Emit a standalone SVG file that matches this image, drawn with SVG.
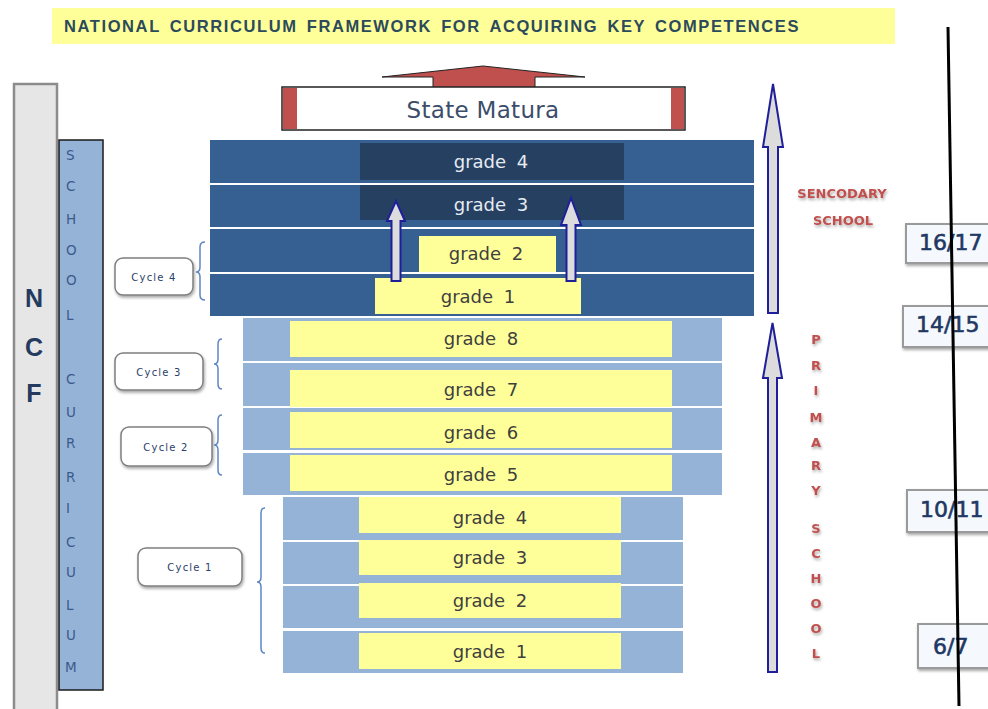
<svg xmlns="http://www.w3.org/2000/svg" width="988" height="709" viewBox="0 0 988 709">
<defs>
<style>
.sec{fill:#376092}
.dk{fill:#254061}
.lb{fill:#95b3d7}
.yl{fill:#ffff99}
.gt{font-family:"DejaVu Sans",sans-serif;font-size:18px;fill:#404040;text-anchor:middle;word-spacing:5px}
.gw{fill:#e6ebf3}
.arr{fill:#dcdcdc;stroke:#1f1f9a;stroke-width:2;stroke-linejoin:miter}
.cyb{fill:#ffffff;stroke:#7f7f7f;stroke-width:1.5}
.cyt{font-family:"DejaVu Sans",sans-serif;font-size:10px;fill:#2a3f6a;text-anchor:middle;letter-spacing:1.2px}
.br{fill:none;stroke:#5f87c2;stroke-width:1.5}
.sl{font-family:"DejaVu Sans",sans-serif;font-size:13.5px;fill:#3c5a8c}
.ncf{font-family:"Liberation Sans",sans-serif;font-size:25px;font-weight:bold;fill:#243a5e;text-anchor:middle}
.red{font-family:"DejaVu Sans",sans-serif;font-size:13px;font-weight:bold;fill:#c0504d;text-anchor:middle}
.age{fill:#f5f8fc;stroke:#9a9a9a;stroke-width:2}
.agt{font-family:"DejaVu Sans",sans-serif;font-size:22px;fill:#1f3864;stroke:#1f3864;stroke-width:0.6}
</style>
<filter id="sh" x="-20%" y="-20%" width="140%" height="160%">
<feGaussianBlur in="SourceAlpha" stdDeviation="1.5"/>
<feOffset dx="1" dy="2" result="b"/>
<feFlood flood-color="#000" flood-opacity="0.35"/>
<feComposite in2="b" operator="in"/>
<feMerge><feMergeNode/><feMergeNode in="SourceGraphic"/></feMerge>
</filter>
</defs>
<rect width="988" height="709" fill="#ffffff"/>

<g id="title">
<rect x="52" y="8" width="843" height="36" fill="#ffff99"/>
<text x="64" y="32" font-family="Liberation Sans,sans-serif" font-size="16.5" font-weight="bold" fill="#2b4a5c" letter-spacing="1.6" word-spacing="3">NATIONAL CURRICULUM FRAMEWORK FOR ACQUIRING KEY COMPETENCES</text>
</g>

<g id="ncf">
<rect x="14" y="84" width="43" height="640" fill="#e6e6e6" stroke="#8c8c8c" stroke-width="2.5"/>
<text class="ncf" x="34" y="307">N</text>
<text class="ncf" x="34" y="356">C</text>
<text class="ncf" x="34" y="402">F</text>
</g>

<g id="school-curriculum">
<rect x="59" y="140" width="44" height="550" fill="#95b3d7" stroke="#1a1a1a" stroke-width="1.5"/>
<text class="sl" x="66" y="160">S</text>
<text class="sl" x="66" y="191">C</text>
<text class="sl" x="66" y="224">H</text>
<text class="sl" x="66" y="255">O</text>
<text class="sl" x="66" y="285">O</text>
<text class="sl" x="66" y="320">L</text>
<text class="sl" x="66" y="384">C</text>
<text class="sl" x="66" y="417">U</text>
<text class="sl" x="66" y="448">R</text>
<text class="sl" x="66" y="482">R</text>
<text class="sl" x="66" y="513">I</text>
<text class="sl" x="66" y="547">C</text>
<text class="sl" x="66" y="577">U</text>
<text class="sl" x="66" y="610">L</text>
<text class="sl" x="66" y="640">U</text>
<text class="sl" x="65" y="672">M</text>
</g>

<g id="state-matura">
<polygon points="382,77 433,77 433,88 535,88 535,77 585,77 483,66" fill="#c0504d" stroke="#222" stroke-width="1"/>
<rect x="282" y="87" width="403" height="43" fill="#ffffff" stroke="#222" stroke-width="1.5"/>
<rect x="283" y="88" width="14" height="41" fill="#c0504d"/>
<rect x="671" y="88" width="13" height="41" fill="#c0504d"/>
<text x="483" y="118" font-family="DejaVu Sans,sans-serif" font-size="23" fill="#3b4d6b" text-anchor="middle" letter-spacing="0.3">State Matura</text>
</g>

<g id="secondary">
<rect class="sec" x="210" y="140" width="544" height="43"/>
<rect class="sec" x="210" y="185" width="544" height="42"/>
<rect class="sec" x="210" y="229" width="544" height="43"/>
<rect class="sec" x="210" y="274" width="544" height="42"/>
<rect class="dk" x="360" y="143" width="264" height="37"/>
<rect class="dk" x="360" y="185" width="264" height="35"/>
<rect class="yl" x="419" y="236" width="137" height="36"/>
<rect class="yl" x="375" y="278" width="206" height="36"/>
<text class="gt gw" x="491" y="168">grade 4</text>
<text class="gt gw" x="491" y="211">grade 3</text>
<text class="gt" x="486" y="260">grade 2</text>
<text class="gt" x="478" y="303">grade 1</text>
</g>

<g id="primary-upper">
<rect class="lb" x="243" y="318" width="479" height="43"/>
<rect class="lb" x="243" y="363" width="479" height="43"/>
<rect class="lb" x="243" y="408" width="479" height="42"/>
<rect class="lb" x="243" y="453" width="479" height="42"/>
<rect class="yl" x="290" y="321" width="382" height="36"/>
<rect class="yl" x="290" y="370" width="382" height="37"/>
<rect class="yl" x="290" y="412" width="382" height="36"/>
<rect class="yl" x="290" y="455" width="382" height="36"/>
<text class="gt" x="481" y="345">grade 8</text>
<text class="gt" x="481" y="396">grade 7</text>
<text class="gt" x="481" y="439">grade 6</text>
<text class="gt" x="481" y="481">grade 5</text>
</g>

<g id="primary-lower">
<rect class="lb" x="283" y="497" width="400" height="43"/>
<rect class="lb" x="283" y="542" width="400" height="42"/>
<rect class="lb" x="283" y="586" width="400" height="42"/>
<rect class="lb" x="283" y="631" width="400" height="42"/>
<rect class="yl" x="359" y="497" width="262" height="36"/>
<rect class="yl" x="359" y="540" width="262" height="35"/>
<rect class="yl" x="359" y="583" width="262" height="35"/>
<rect class="yl" x="359" y="633" width="262" height="36"/>
<text class="gt" x="490" y="524">grade 4</text>
<text class="gt" x="490" y="564">grade 3</text>
<text class="gt" x="490" y="607">grade 2</text>
<text class="gt" x="490" y="658">grade 1</text>
</g>

<g id="cycle4">
<rect class="cyb" x="115" y="258" width="78" height="37" rx="8" filter="url(#sh)"/>
<text class="cyt" x="154" y="281">Cycle 4</text>
<path class="br" d="M205,242 Q200,242 200,247 L200,267 Q200,272 196,272 Q200,272 200,277 L200,295 Q200,300 205,300"/>
</g>
<g id="cycle3">
<rect class="cyb" x="115" y="353" width="88" height="37" rx="8" filter="url(#sh)"/>
<text class="cyt" x="159" y="376">Cycle 3</text>
<path class="br" d="M222,339 Q218,339 218,344 L218,359 Q218,364 214,364 Q218,364 218,369 L218,384 Q218,389 222,389"/>
</g>
<g id="cycle2">
<rect class="cyb" x="121" y="427" width="91" height="39" rx="8" filter="url(#sh)"/>
<text class="cyt" x="166" y="451">Cycle 2</text>
<path class="br" d="M222,415 Q218,415 218,420 L218,440 Q218,445 214,445 Q218,445 218,450 L218,470 Q218,475 222,475"/>
</g>
<g id="cycle1">
<rect class="cyb" x="138" y="548" width="104" height="38" rx="8" filter="url(#sh)"/>
<text class="cyt" x="190" y="571">Cycle 1</text>
<path class="br" d="M265,508 Q261,508 261,513 L261,577 Q261,582 257,582 Q261,582 261,587 L261,648 Q261,653 265,653"/>
</g>

<g id="connectors">
<polygon class="arr" points="773,84 783,147 778,147 778,313 768,313 768,147 763,147"/>
<polygon class="arr" points="772.5,323 782,378 777,378 777,672 768,672 768,378 763,378"/>
<polygon class="arr" points="396,201 405,221 400.5,221 400.5,281 391.5,281 391.5,221 387,221"/>
<polygon class="arr" points="571,198 581,225 575.5,225 575.5,281 566.5,281 566.5,225 561,225"/>
</g>

<g id="secondary-label" filter="url(#sh)">
<text class="red" x="842" y="198">SENCODARY</text>
<text class="red" x="843" y="225">SCHOOL</text>
</g>

<g id="primary-label" filter="url(#sh)">
<text class="red" x="816" y="344">P</text>
<text class="red" x="816" y="370">R</text>
<text class="red" x="816" y="395">I</text>
<text class="red" x="816" y="422">M</text>
<text class="red" x="816" y="447">A</text>
<text class="red" x="816" y="470">R</text>
<text class="red" x="816" y="495">Y</text>
<text class="red" x="816" y="533">S</text>
<text class="red" x="816" y="558">C</text>
<text class="red" x="816" y="583">H</text>
<text class="red" x="816" y="608">O</text>
<text class="red" x="816" y="633">O</text>
<text class="red" x="816" y="658">L</text>
</g>

<g id="age-16-17">
<rect class="age" x="906" y="224" width="92" height="39" filter="url(#sh)"/>
<text class="agt" x="919" y="250">16/17</text>
</g>
<g id="age-14-15">
<rect class="age" x="903" y="306" width="95" height="41" filter="url(#sh)"/>
<text class="agt" x="916" y="332">14/15</text>
</g>
<g id="age-10-11">
<rect class="age" x="907" y="490" width="91" height="42" filter="url(#sh)"/>
<text class="agt" x="920" y="517">10/11</text>
</g>
<g id="age-6-7">
<rect class="age" x="918" y="624" width="80" height="44" filter="url(#sh)"/>
<text class="agt" x="933" y="654">6/7</text>
</g>

<g id="timeline">
<line x1="948" y1="27" x2="959" y2="706" stroke="#000" stroke-width="3"/>
</g>
</svg>
